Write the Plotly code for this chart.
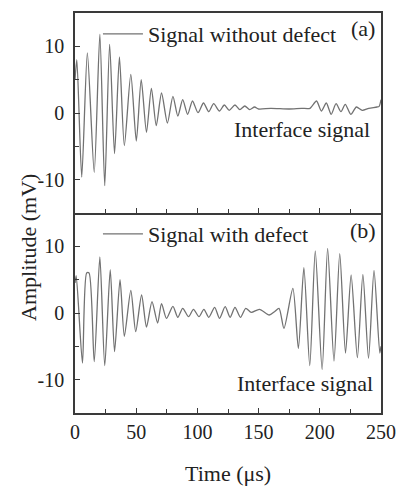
import plotly.graph_objects as go

# Signal (a): without defect  (time in us, amplitude in mV) - extrema
t_a = [0, 1.5, 5.5, 10.1, 15.7, 20.3, 24.3, 28.3, 32.3, 36.3, 40.3, 45.6, 50.1, 54.1,
       58.4, 62.4, 66.4, 70.7, 75.5, 80, 84, 88, 92, 96, 100.5, 105, 109.3, 113.3,
       118, 122, 126, 130.7, 134.7, 138.7, 142.7, 146.7, 150, 160, 175, 185, 192,
       197.3, 201.3, 205.3, 209.3, 213.3, 217.3, 220.8, 225.3, 229.9, 234.7, 240,
       246.7, 248.5, 250]
v_a = [5.0, 8.0, -9.6, 9.0, -8.9, 11.8, -10.9, 10.3, -6.1, 8.4, -4.9, 5.8, -4.2, 5.0,
       -2.9, 3.7, -1.9, 3.0, -1.5, 2.5, -0.45, 2.0, -0.2, 1.8, 0.05, 1.5, 0.2, 1.4,
       0.3, 1.2, 0.4, 1.2, 0.5, 1.05, 0.5, 0.9, 0.6, 0.7, 0.6, 0.7, 0.7,
       1.8, 0.3, 1.5, -0.2, 1.4, 0.2, 1.3, -0.2, 0.9, 0.4, 0.7,
       0.9, 1.0, 2.0]

# Signal (b): with defect
t_b = [0, 1.0, 6.1, 9.5, 11.5, 15.7, 20.3, 24.3, 28.8, 32.3, 36.8, 40.3, 45.6, 49.6,
       54.4, 58.4, 62.9, 67.5, 70.7, 74.7, 80, 84, 88, 92.8, 96.8, 101.3, 105.3,
       109.3, 114.1, 118.1, 122.7, 126.7, 130.7, 135.2, 139.5, 144, 150.7, 158.7,
       163, 166.7, 170.7, 178, 182.5, 187, 191.8, 196.3, 201.9, 206.4, 211.6, 216.3,
       221, 225.6, 230.7, 235.2, 239.8, 244.3, 249, 250]
v_b = [4.5, 5.6, -7.5, 6.0, 6.0, -7.3, 8.4, -7.9, 6.5, -5.8, 5.0, -3.5, 3.4, -2.8,
       2.7, -2.1, 1.7, -1.5, 1.4, -0.8, 1.0, -0.65, 0.7, -0.55, 0.55, -0.55, 0.55,
       -0.65, 0.85, -0.8, 0.95, -0.65, 0.85, -0.65, 0.7, 0.1, 0.55, -0.3,
       0.2, 0.7, -2.3, 3.7, -5.3, 6.8, -7.9, 9.3, -8.5, 9.7, -7.2, 8.9,
       -6.0, 5.7, -6.7, 5.8, -6.8, 6.4, -6.0, -5.0]

x_ticks = [0, 50, 100, 150, 200, 250]
y_ticks = [-10, 0, 10]
y_ticktext = ["-10", "0", "10"]

FONT = "Liberation Serif"
LINE = "#727272"
AX = "#3a3a3a"
TXT = 22
TICK = 20

fig = go.Figure()
fig.add_trace(go.Scatter(x=t_a, y=v_a, mode="lines", name="Signal without defect",
                         line=dict(color=LINE, width=1.3, shape="spline", smoothing=0.7),
                         xaxis="x2", yaxis="y2", legend="legend"))
fig.add_trace(go.Scatter(x=t_b, y=v_b, mode="lines", name="Signal with defect",
                         line=dict(color=LINE, width=1.3, shape="spline", smoothing=0.7),
                         xaxis="x", yaxis="y", legend="legend2"))

base = dict(showline=True, linecolor=AX, linewidth=1.5,
            ticks="inside", ticklen=5, tickcolor=AX, tickwidth=1.2,
            showgrid=False, zeroline=False)

fig.update_layout(
    width=407, height=487,
    margin=dict(l=75, r=20, t=11, b=74),
    paper_bgcolor="white", plot_bgcolor="white",
    font=dict(family=FONT, size=TXT, color="#222"),
    xaxis=dict(domain=[0, 1], range=[0, 250], tickvals=x_ticks, anchor="y", mirror=False,
               minor=dict(dtick=25, ticks="inside", ticklen=4, tickcolor=AX),
               tickfont=dict(size=TICK), **base),
    yaxis=dict(domain=[0, 0.5], range=[-15, 15], tickvals=y_ticks, ticktext=y_ticktext,
               anchor="x", mirror=True, ticklabelstandoff=5,
               minor=dict(dtick=5, ticks="inside", ticklen=4, tickcolor=AX),
               tickfont=dict(size=TICK), **base),
    xaxis2=dict(domain=[0, 1], range=[0, 250], tickvals=x_ticks, anchor="y2", mirror=True,
                showticklabels=False,
                minor=dict(dtick=25, ticks="inside", ticklen=4, tickcolor=AX),
                **base),
    yaxis2=dict(domain=[0.5, 1], range=[-15, 15], tickvals=y_ticks, ticktext=y_ticktext,
                anchor="x2", mirror=True, ticklabelstandoff=5,
                minor=dict(dtick=5, ticks="inside", ticklen=4, tickcolor=AX),
                tickfont=dict(size=TICK), **base),
    legend=dict(x=0.075, y=1.0, xanchor="left", yanchor="top",
                bgcolor="rgba(0,0,0,0)", font=dict(size=TXT), itemwidth=40),
    legend2=dict(x=0.075, y=0.5, xanchor="left", yanchor="top",
                 bgcolor="rgba(0,0,0,0)", font=dict(size=TXT), itemwidth=40),
    showlegend=True,
    annotations=[
        dict(text="(a)", x=0.94, y=0.962, xref="paper", yref="paper", showarrow=False,
             xanchor="center", yanchor="middle", font=dict(size=TXT)),
        dict(text="(b)", x=0.94, y=0.455, xref="paper", yref="paper", showarrow=False,
             xanchor="center", yanchor="middle", font=dict(size=TXT)),
        dict(text="Interface signal", x=0.970, y=-2.4, xref="paper", yref="y2",
             showarrow=False, xanchor="right", yanchor="middle", font=dict(size=TXT)),
        dict(text="Interface signal", x=0.982, y=-10.6, xref="paper", yref="y",
             showarrow=False, xanchor="right", yanchor="middle", font=dict(size=TXT)),
        dict(text="Time (\u03bcs)", x=0.5, y=-0.152, xref="paper", yref="paper",
             showarrow=False, xanchor="center", yanchor="middle", font=dict(size=TXT)),
        dict(text="Amplitude (mV)", x=-0.154, y=0.415, xref="paper", yref="paper",
             showarrow=False, textangle=-90, xanchor="center", yanchor="middle",
             font=dict(size=TXT)),
    ],
)

fig.write_html("out.html", config={"displayModeBar": False},
               post_script="document.body.style.margin='0px';")
